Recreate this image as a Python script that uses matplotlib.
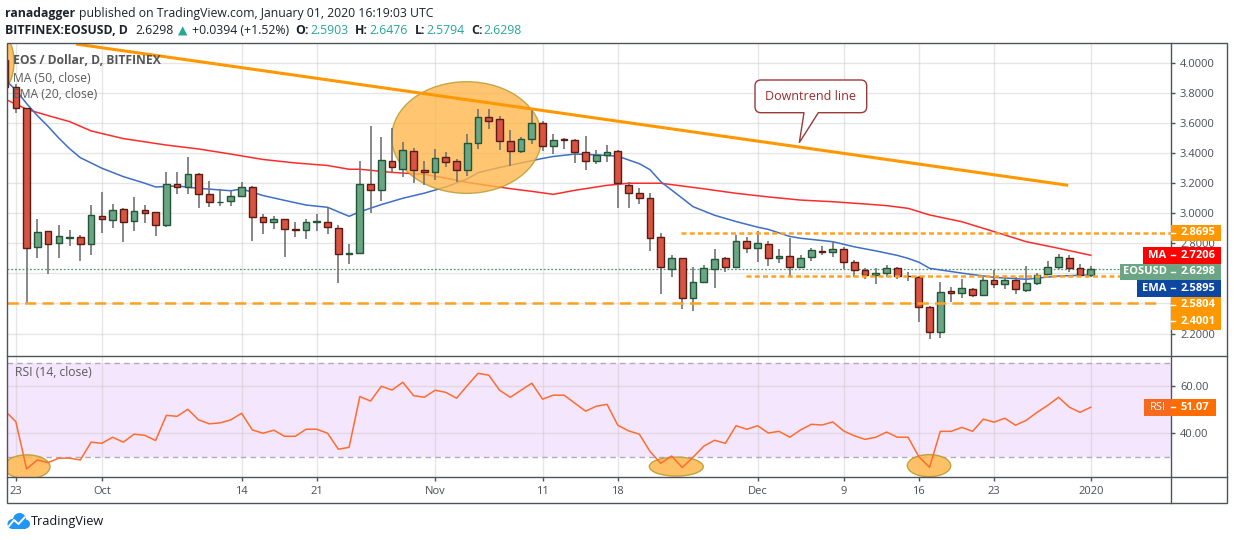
import numpy as np
import pandas as pd
import matplotlib
matplotlib.use("Agg")
import matplotlib.pyplot as plt
from matplotlib.patches import Ellipse, Rectangle, PathPatch, Circle
from matplotlib.path import Path

FONT = ["Open Sans", "DejaVu Sans"]
plt.rcParams["font.family"] = FONT

# ---- data ----
dates = pd.date_range("2019-09-22", "2020-01-01", freq="D")
days = (dates - pd.Timestamp("2019-09-23")).days.to_numpy()

opens = [4.020, 3.842, 3.699, 2.774, 2.884, 2.800, 2.838, 2.840, 2.794,
         2.982, 2.953, 3.027, 2.947, 3.020, 3.007, 2.920, 3.193, 3.173, 3.259, 3.126, 3.073,
         3.080, 3.113, 3.173, 2.973, 2.940, 2.960, 2.895, 2.887, 2.942, 2.940, 2.900, 2.730,
         2.734, 3.193, 3.153, 3.346, 3.293, 3.413, 3.286,
         3.273, 3.373, 3.346, 3.286, 3.466, 3.639, 3.625, 3.479, 3.413, 3.492, 3.599, 3.446,
         3.492, 3.486, 3.406, 3.346, 3.386, 3.413, 3.186, 3.133, 3.100, 2.840, 2.627, 2.701,
         2.434, 2.541, 2.627, 2.701, 2.641, 2.814,
         2.767, 2.794, 2.701, 2.714, 2.641, 2.707, 2.747, 2.741, 2.760, 2.674, 2.621, 2.588,
         2.601, 2.634, 2.582, 2.574, 2.379, 2.212, 2.481, 2.468, 2.494, 2.454, 2.554, 2.528,
         2.554, 2.488, 2.534, 2.594, 2.641, 2.701, 2.634, 2.5903]
highs = [4.050, 3.860, 3.700, 2.960, 2.884, 2.922, 2.889, 2.856, 3.055,
         3.140, 3.062, 3.037, 3.108, 3.055, 3.010, 3.273, 3.273, 3.373, 3.266, 3.215, 3.160,
         3.148, 3.208, 3.182, 2.995, 2.982, 2.962, 2.940, 2.960, 2.993, 3.040, 2.920, 2.796,
         3.348, 3.583, 3.506, 3.568, 3.476, 3.433, 3.348,
         3.428, 3.406, 3.359, 3.528, 3.692, 3.692, 3.647, 3.552, 3.506, 3.699, 3.612, 3.526,
         3.499, 3.492, 3.512, 3.419, 3.453, 3.419, 3.206, 3.166, 3.133, 2.869, 2.723, 2.701,
         2.641, 2.656, 2.762, 2.707, 2.856, 2.840,
         2.880, 2.816, 2.760, 2.834, 2.721, 2.767, 2.780, 2.814, 2.774, 2.687, 2.634, 2.634,
         2.654, 2.641, 2.608, 2.581, 2.385, 2.541, 2.508, 2.561, 2.501, 2.574, 2.621, 2.574,
         2.574, 2.647, 2.601, 2.681, 2.727, 2.721, 2.661, 2.6476]
lows = [3.800, 3.665, 2.401, 2.700, 2.594, 2.705, 2.784, 2.683, 2.723,
        2.871, 2.904, 2.811, 2.884, 2.937, 2.851, 2.907, 3.126, 3.126, 3.037, 3.044, 3.051,
        3.051, 3.106, 2.818, 2.860, 2.893, 2.711, 2.844, 2.831, 2.884, 2.862, 2.534, 2.661,
        2.734, 3.000, 3.084, 3.266, 3.244, 3.204, 3.186,
        3.220, 3.306, 3.206, 3.250, 3.426, 3.563, 3.423, 3.313, 3.403, 3.459, 3.416, 3.393,
        3.426, 3.337, 3.286, 3.326, 3.339, 3.037, 3.037, 3.064, 2.751, 2.463, 2.578, 2.365,
        2.352, 2.541, 2.505, 2.611, 2.641, 2.734,
        2.678, 2.651, 2.667, 2.578, 2.641, 2.681, 2.721, 2.711, 2.627, 2.578, 2.561, 2.528,
        2.578, 2.561, 2.548, 2.279, 2.166, 2.172, 2.412, 2.434, 2.441, 2.454, 2.501, 2.494,
        2.461, 2.474, 2.521, 2.588, 2.627, 2.608, 2.574, 2.5794]
closes = [3.842, 3.699, 2.767, 2.878, 2.794, 2.849, 2.843, 2.794, 2.987,
          2.960, 3.020, 2.940, 3.013, 3.004, 2.920, 3.193, 3.173, 3.259, 3.126, 3.073, 3.077,
          3.113, 3.173, 2.973, 2.940, 2.960, 2.893, 2.891, 2.940, 2.946, 2.907, 2.727, 2.735,
          3.193, 3.153, 3.353, 3.306, 3.419, 3.286, 3.273,
          3.366, 3.339, 3.286, 3.466, 3.639, 3.612, 3.479, 3.413, 3.492, 3.599, 3.446, 3.486,
          3.486, 3.406, 3.346, 3.386, 3.406, 3.200, 3.133, 3.100, 2.834, 2.641, 2.701, 2.434,
          2.541, 2.634, 2.694, 2.641, 2.814, 2.767,
          2.800, 2.701, 2.714, 2.641, 2.701, 2.754, 2.741, 2.760, 2.674, 2.621, 2.588, 2.601,
          2.634, 2.581, 2.580, 2.379, 2.212, 2.474, 2.468, 2.501, 2.454, 2.554, 2.528, 2.554,
          2.494, 2.534, 2.588, 2.641, 2.707, 2.634, 2.5904, 2.6298]

rsi = [49.5, 44.9, 24.8, 28.6, 27.5, 29.4, 29.4, 28.6, 36.2,
       35.7, 38.3, 36.2, 39.6, 39.1, 36.9, 47.6, 47.2, 50.2, 45.7, 44.0, 44.4,
       45.7, 48.5, 41.4, 40.0, 41.3, 38.7, 38.7, 41.7, 41.7, 40.0, 33.2, 34.0,
       55.6, 53.7, 60.0, 58.4, 61.7, 56.0, 55.3,
       58.3, 57.4, 54.9, 60.3, 65.5, 64.7, 58.3, 55.3, 58.3, 61.3, 54.5, 56.2,
       56.2, 52.8, 49.4, 51.5, 52.3, 43.4, 41.0, 39.6, 32.2, 27.2, 30.3, 25.4,
       29.8, 34.5, 37.0, 35.7, 43.2, 41.7,
       43.2, 40.1, 40.8, 38.3, 41.4, 43.8, 43.5, 44.8, 41.0, 38.9, 37.4, 38.3,
       40.5, 38.3, 38.3, 30.0, 25.5, 40.8, 40.8, 42.5, 40.8, 46.0, 44.7, 46.4,
       43.4, 45.5, 48.9, 51.9, 55.3, 51.1, 48.9, 51.07]

ma_days = [-1, 1, 3, 5, 7, 10, 14, 17, 20, 23, 26, 29, 31, 32, 35, 38, 40, 42, 46, 48,
           50, 52, 55, 57, 60, 64, 67, 70, 73, 76, 79, 81, 83, 85, 88, 91, 94, 97, 100]
ma_vals = [3.760, 3.692, 3.650, 3.610, 3.548, 3.497, 3.454, 3.428, 3.394, 3.358, 3.335,
           3.318, 3.293, 3.293, 3.272, 3.259, 3.234, 3.205, 3.164, 3.146, 3.126, 3.153,
           3.186, 3.200, 3.200, 3.163, 3.133, 3.109, 3.088, 3.077, 3.062, 3.051, 3.033,
           2.989, 2.944, 2.878, 2.811, 2.767, 2.7206]

ema_days = [-1, 0, 1, 2, 3, 4, 5, 6, 8, 10, 12, 13, 15, 17, 20, 21, 23, 25, 27, 29, 31,
            32, 34, 36, 38, 40, 42, 43, 45, 47, 49, 50, 52, 54, 56, 57, 58, 59, 60, 62,
            63, 65, 67, 69, 70, 72, 73, 76, 78, 80, 82, 83, 84, 85, 88, 91, 94, 97, 100]
ema_vals = [3.890, 3.820, 3.730, 3.650, 3.578, 3.500, 3.430, 3.370, 3.300, 3.244, 3.200,
            3.175, 3.182, 3.166, 3.150, 3.162, 3.118, 3.086, 3.055, 3.040, 2.980, 3.010,
            3.058, 3.100, 3.134, 3.175, 3.229, 3.270, 3.305, 3.335, 3.365, 3.378, 3.394,
            3.389, 3.380, 3.355, 3.330, 3.290, 3.210, 3.100, 3.044, 2.987, 2.945, 2.908,
            2.893, 2.846, 2.834, 2.811, 2.777, 2.750, 2.720, 2.700, 2.675, 2.634, 2.602,
            2.574, 2.561, 2.583, 2.5895]

trend_days = [5.6, 97.9]
trend_prices = [4.126, 3.186]

resist_level, resist_from = 2.8695, 61.9
mid_level, mid_from = 2.5804, 67.9
support_level, support_to = 2.4001, 106.6

tick_dates = ["2019-09-23", "2019-10-01", "2019-10-14", "2019-10-21", "2019-11-01",
              "2019-11-11", "2019-11-18", "2019-12-01", "2019-12-09", "2019-12-16",
              "2019-12-23", "2020-01-01"]
tick_labels = ["23", "Oct", "14", "21", "Nov", "11", "18", "Dec", "9", "16", "23", "2020"]
tick_days = (pd.to_datetime(tick_dates) - pd.Timestamp("2019-09-23")).days.to_numpy()

# ---- style ----
W, H = 1234, 540
GREEN, GREEN_E = "#6ba583", "#225437"
RED, RED_E = "#d75442", "#5b1a13"
ORANGE = "#ff9800"
AXC = "#50535e"
TXT = "#4a4d57"
TEAL = "#26a69a"

PL, PR, PT, PM, PB, BOT, RIGHT = 6.7, 1171, 43, 355.7, 476.7, 503.3, 1227.3
XMIN, XMAX = -0.85, 107.46
PMIN, PMAX = 2.0526, 4.133
RMIN, RMAX = 21.5, 73.0


def rect(x0, y0, x1, y1):
    return [x0 / W, 1 - y1 / H, (x1 - x0) / W, (y1 - y0) / H]


def py(p):
    return PT + (PMAX - p) / (PMAX - PMIN) * (PM - PT)


def ry(v):
    return PM + (RMAX - v) / (RMAX - RMIN) * (PB - PM)


fig = plt.figure(figsize=(W / 100, H / 100), dpi=100)
ax = fig.add_axes(rect(PL, PT, PR, PM))
ax2 = fig.add_axes(rect(PL, PM, PR, PB))

for a in (ax, ax2):
    a.set_xlim(XMIN, XMAX)
    for s in a.spines.values():
        s.set_visible(False)
    a.set_xticks(tick_days)
    a.yaxis.tick_right()
    a.set_axisbelow(True)
    a.grid(True, color="#c8c8c8", alpha=0.45, lw=1)
    a.tick_params(axis="y", length=3, width=1, color=AXC, labelcolor=TXT,
                  labelsize=8, pad=3.5)

# main price pane
ax.set_ylim(PMIN, PMAX)
ax.set_yticks(np.round(np.arange(2.2, 4.01, 0.2), 1))
# 2.4 and 2.6 sit behind the price tags on the right, so their text is left blank
ax.set_yticklabels(["" if round(v, 1) in (2.4, 2.6) else f"{v:.4f}" for v in ax.get_yticks()])
ax.tick_params(axis="x", length=0, labelbottom=False)

o, h, l, c = map(np.array, (opens, highs, lows, closes))
up = c >= o
ax.plot(ma_days, ma_vals, color="#ff2b2b", lw=1.1, zorder=2)
ax.plot(ema_days, ema_vals, color="#3d6fc6", lw=1.1, zorder=2)
ax.axhline(c[-1], color="#4f9a6e", lw=0.9, ls=(0, (1.5, 1.5)), zorder=1.5)

ax.add_patch(Ellipse((41.94, 3.504), 13.95, 0.743, facecolor="#ffb74d", alpha=0.8,
                     edgecolor="#b59a2a", lw=1, zorder=3))
ax.add_patch(Ellipse((-1.47, 4.007), 2.6, 0.373, facecolor="#ffb74d", alpha=0.85,
                     edgecolor="#b59a2a", lw=1, zorder=3))

ax.vlines(days, l, h, color="#737373", lw=1.2, zorder=3.5)
ax.bar(days, np.abs(c - o), bottom=np.minimum(o, c), width=0.62,
       color=np.where(up, GREEN, RED), edgecolor=np.where(up, GREEN_E, RED_E),
       linewidth=1.0, zorder=4)

LVL = "#ffa21f"
ax.plot([resist_from, XMAX], [resist_level] * 2, color=LVL, lw=1.8,
        ls=(0, (2, 1.3)), zorder=5)
ax.plot([mid_from, XMAX], [mid_level] * 2, color=LVL, lw=1.8,
        ls=(0, (2, 1.3)), zorder=5)
ax.plot([XMIN, support_to], [support_level] * 2, color=LVL, lw=1.8,
        ls=(0, (4.5, 2.5)), zorder=5)
ax.plot(trend_days, trend_prices, color=ORANGE, lw=2.2, zorder=6,
        solid_capstyle="butt")

# RSI pane
ax2.set_ylim(RMIN, RMAX)
ax2.set_yticks([40, 60])
ax2.set_yticklabels(["40.00", "60.00"])
ax2.axhspan(30, 70, color="#f4e6fd", zorder=0.2, lw=0)
for lv in (30, 70):
    ax2.axhline(lv, color="#b3a8c2", lw=1, ls=(0, (4, 3)), zorder=1)
for cx, cy, ew, eh in [(1.04, 25.7, 4.28, 10.2), (61.44, 25.8, 5.02, 8.1),
                       (84.95, 26.2, 4.04, 9.4)]:
    ax2.add_patch(Ellipse((cx, cy), ew, eh, facecolor="#ffb74d", alpha=0.85,
                          edgecolor="#b59a2a", lw=1, zorder=3))
ax2.plot(days, rsi, color="#ff6d2e", lw=1.1, zorder=4)
ax2.set_xticklabels(tick_labels)
ax2.tick_params(axis="x", length=3, width=1, color=AXC, labelcolor=TXT,
                labelsize=8, pad=3.5)

# overlay in pixel coordinates
ov = fig.add_axes([0, 0, 1, 1])
ov.set_xlim(0, W)
ov.set_ylim(H, 0)
ov.axis("off")

ov.add_patch(Rectangle((PL, PT), RIGHT - PL, BOT - PT, fill=False, edgecolor=AXC, lw=1))
ov.plot([PR, PR], [PT, BOT], color=AXC, lw=1)
ov.plot([PL, RIGHT], [PM, PM], color=AXC, lw=1)
ov.plot([PL, RIGHT], [PB, PB], color=AXC, lw=1)

ov.text(13, 61, "EOS / Dollar, D, BITFINEX", fontsize=8.7, fontweight="bold",
        color="#555555", va="center")
ov.text(13, 78, "MA (50, close)", fontsize=8.7, color="#5a5a5a", va="center")
ov.text(13, 95, "EMA (20, close)", fontsize=8.7, color="#5a5a5a", va="center")
ov.text(15, 373, "RSI (14, close)", fontsize=8.7, color="#5a5a5a", va="center")

# header
renderer = fig.canvas.get_renderer()


def run(x, y, parts, size=8.8):
    for s, col, wt, gap in parts:
        t = ov.text(x, y, s, color=col, fontweight=wt, fontsize=size, va="center",
                    ha="left", family=FONT)
        x += t.get_window_extent(renderer).width + gap


DK = "#1e222d"
run(5, 13, [("ranadagger", DK, "bold", 3.5),
            ("published on TradingView.com, January 01, 2020 16:19:03 UTC", DK, "normal", 0)])
chg = c[-1] - c[-2]
run(5, 31, [("BITFINEX:EOSUSD, D", DK, "bold", 8),
            (f"{c[-1]:.4f}", DK, "normal", 4),
            ("\u25b2", TEAL, "normal", 4),
            (f"+{chg:.4f} (+{chg / c[-2] * 100:.2f}%)", DK, "normal", 7),
            ("O:", DK, "bold", 1), (f"{o[-1]:.4f}", TEAL, "normal", 7),
            ("H:", DK, "bold", 1), (f"{h[-1]:.4f}", TEAL, "normal", 7),
            ("L:", DK, "bold", 1), (f"{l[-1]:.4f}", TEAL, "normal", 7),
            ("C:", DK, "bold", 1), (f"{c[-1]:.4f}", TEAL, "normal", 0)])

# callout
L, R, T, B, r = 755, 866.7, 80, 112.7, 6
tip = (799.3, 142.7)
verts = [(L + r, T), (R - r, T), (R, T), (R, T + r), (R, B - r), (R, B), (R - r, B),
         (818.3, B), tip, (804, B), (L + r, B), (L, B), (L, B - r), (L, T + r), (L, T),
         (L + r, T), (L + r, T)]
codes = [Path.MOVETO, Path.LINETO, Path.CURVE3, Path.CURVE3, Path.LINETO, Path.CURVE3,
         Path.CURVE3, Path.LINETO, Path.LINETO, Path.LINETO, Path.LINETO, Path.CURVE3,
         Path.CURVE3, Path.LINETO, Path.CURVE3, Path.CURVE3, Path.CLOSEPOLY]
ov.add_patch(PathPatch(Path(verts, codes), facecolor="white", edgecolor="#9b3a3a", lw=1))
ov.text((L + R) / 2, (T + B) / 2 + 0.5, "Downtrend line", fontsize=9, color="#9e2a2a",
        ha="center", va="center")

# right-side price labels (stacked like the platform does)
BH = 16.5
labels = [(resist_level, ORANGE, None, 0), (ma_vals[-1], "#ff0000", "MA", 28),
          (c[-1], GREEN, "EOSUSD", 51), (ema_vals[-1], "#0d47a1", "EMA", 34),
          (mid_level, ORANGE, None, 0), (support_level, ORANGE, None, 0)]
prev = -1e9
for val, col, name, tw in labels:
    yc = max(py(val), prev + BH)
    prev = yc
    ov.add_patch(Rectangle((PR, yc - BH / 2), 50, BH, color=col, lw=0, zorder=5))
    ov.plot([PR, PR + 4], [yc, yc], color="white", lw=1, zorder=6)
    ov.text(PR + 27, yc, f"{val:.4f}", color="white", fontsize=8, fontweight="bold",
            ha="center", va="center", zorder=7)
    if name:
        ov.add_patch(Rectangle((PR - tw, yc - BH / 2), tw, BH, color=col, lw=0, zorder=5))
        ov.text(PR - tw / 2, yc, name, color="white", fontsize=8, fontweight="bold",
                ha="center", va="center", zorder=7)

yc = ry(rsi[-1])
ov.add_patch(Rectangle((PR - 27, yc - 8.3), 27, 16.6, color="#f7691e", lw=0, zorder=5))
ov.add_patch(Rectangle((PR, yc - 8.3), 45, 16.6, color="#ff6d00", lw=0, zorder=5))
ov.plot([PR, PR + 4], [yc, yc], color="white", lw=1, zorder=6)
ov.text(PR - 13.5, yc, "RSI", color="white", fontsize=8, ha="center", va="center", zorder=7)
ov.text(PR + 24, yc, f"{rsi[-1]:.2f}", color="white", fontsize=8, fontweight="bold",
        ha="center", va="center", zorder=7)

# logo
LB = "#2196f3"
for cx, cy, rr in [(12.5, 524, 5), (19.5, 519.5, 6.5), (25.5, 524, 4.5)]:
    ov.add_patch(Circle((cx, cy), rr, color=LB, lw=0))
ov.add_patch(Rectangle((12.5, 521), 13, 8, color=LB, lw=0))
ov.plot([9, 14, 18.5, 24.5], [526, 520, 524, 517.5], color="white", lw=1.4)
ov.text(31, 521, "TradingView", fontsize=9.2, color="#131722", va="center")

fig.savefig("out.png", dpi=100)
